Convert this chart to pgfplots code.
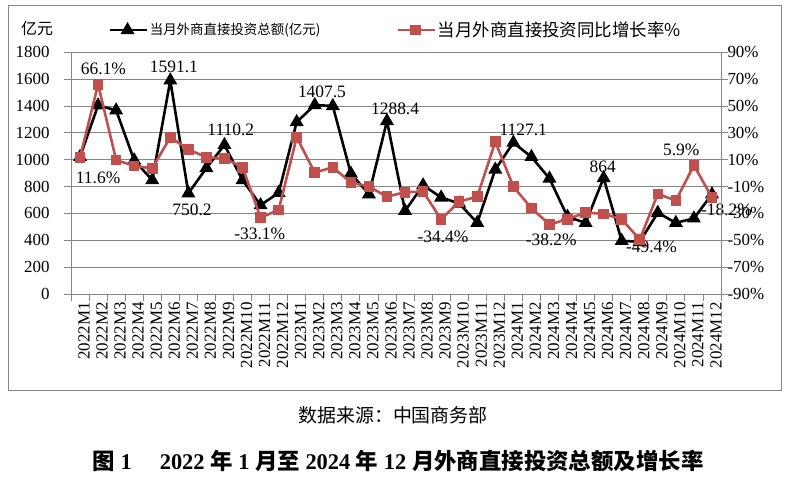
\documentclass[border=0pt]{standalone}
\usepackage{pgfplots}
\pgfplotsset{compat=1.18}
\usepackage{fontspec}
\setmainfont{Liberation Serif}
\newfontfamily\cjk{Noto Sans CJK SC}
\definecolor{exred}{RGB}{192,80,77}
\definecolor{gridgray}{RGB}{134,134,134}

% black: monthly FDI (100m yuan), red: yoy growth (%)
\pgfplotstableread{
x total growth
0 1021 11.6
1 1405 66.1
2 1368 9.8
3 996 5.4
4 848 3.6
5 1591.1 26.7
6 750.2 17.7
7 938 11.8
8 1110.2 11.0
9 848 4.4
10 662 -33.1
11 753 -27.4
12 1281 26.7
13 1407.5 0.4
14 1400 4.4
15 897 -7.0
16 743 -10.0
17 1288.4 -17.5
18 619 -14.2
19 810 -13.7
20 719 -34.4
21 674 -21.2
22 530 -17.5
23 927 23.4
24 1127.1 -10.0
25 1021 -26.1
26 860 -38.2
27 575 -34.3
28 530 -29.4
29 864 -30.3
30 396 -34.3
31 389 -49.4
32 605 -15.5
33 530 -20.4
34 563 5.9
35 743 -18.2
}\fdi

\pgfplotsset{
  every axis/.append style={
    at={(71bp,184bp)}, anchor=south west, scale only axis,
    width=650bp, height=241.7bp,
    xmin=-0.5, xmax=35.5,
    tick align=outside,
    major tick length=7bp, minor tick length=7bp,
    axis line style={gridgray, line width=0.8bp},
    every tick/.style={gridgray, line width=0.8bp},
    tick label style={font=\fontsize{17}{17}\selectfont},
    clip=false,
  },
}

\begin{document}
\begin{tikzpicture}
\useasboundingbox (0,0) rectangle (792bp,478bp);
\draw[gridgray, line width=0.8bp] (8bp,88bp) rectangle (781bp,473bp);

\begin{axis}[
  ymin=0, ymax=1800,
  axis x line*=bottom, axis y line*=left,
  ytick={0,200,...,1800},
  yticklabels={0,200,400,600,800,1000,1200,1400,1600,1800},
  yticklabel style={xshift=-11bp},
  ymajorgrids, grid style={gridgray, line width=0.8bp},
  xtick={0,...,35},
  major x tick style={draw=none},
  minor xtick={-0.5,0.5,...,35.5},
  xticklabels={2022M1,2022M2,2022M3,2022M4,2022M5,2022M6,2022M7,2022M8,2022M9,2022M10,2022M11,2022M12,
    2023M1,2023M2,2023M3,2023M4,2023M5,2023M6,2023M7,2023M8,2023M9,2023M10,2023M11,2023M12,
    2024M1,2024M2,2024M3,2024M4,2024M5,2024M6,2024M7,2024M8,2024M9,2024M10,2024M11,2024M12},
  xticklabel style={rotate=90, anchor=east, inner sep=1bp, yshift=-4bp},
  legend columns=2,
  legend style={at={(0.057,1.092)}, anchor=west, draw=none, fill=none,
    inner sep=0pt, font=\cjk,
    /tikz/every even column/.append style={column sep=74bp}},
  legend image code/.code={
    \draw[#1, mark repeat=2, mark phase=2] plot coordinates {(0bp,0bp) (18bp,0bp) (37bp,0bp)};},
]
\addplot[black, line width=2.6bp, mark=triangle*, mark size=5.5bp,
  mark options={solid}] table[x=x, y=total] {\fdi};
\addlegendentry{\fontsize{13.5}{14}\selectfont 当月外商直接投资总额(亿元)}
\addlegendimage{exred, line width=2.6bp, mark=square*, mark size=4bp}
\addlegendentry{\fontsize{17.5}{18}\selectfont 当月外商直接投资同比增长率\%}

\begin{scope}[font=\fontsize{17.5}{17.5}\selectfont]
\node at (axis cs:1.3,1680) {66.1\%};
\node at (axis cs:5.2,1690) {1591.1};
\node at (axis cs:1.0,868) {11.6\%};
\node at (axis cs:6.2,630) {750.2};
\node at (axis cs:8.35,1225) {1110.2};
\node at (axis cs:9.95,451) {-33.1\%};
\node at (axis cs:13.4,1504) {1407.5};
\node at (axis cs:17.45,1381) {1288.4};
\node at (axis cs:20.1,426) {-34.4\%};
\node at (axis cs:24.55,1219) {1127.1};
\node at (axis cs:26.1,401) {-38.2\%};
\node at (axis cs:28.95,946) {864};
\node at (axis cs:31.65,352) {-49.4\%};
\node at (axis cs:33.3,1071) {5.9\%};
\node at (axis cs:35.8,630) {-18.2\%};
\end{scope}
\end{axis}

\begin{axis}[
  ymin=-90, ymax=90,
  axis x line=none, axis y line*=right,
  ytick={-90,-70,...,90},
  yticklabels={-90\%,-70\%,-50\%,-30\%,-10\%,10\%,30\%,50\%,70\%,90\%},
  yticklabel style={xshift=-4bp},
]
\addplot[exred, line width=2.6bp, mark=square*, mark size=4bp,
  mark options={solid}] table[x=x, y=growth] {\fdi};
\end{axis}

\node[font=\cjk\fontsize{16}{16}\selectfont] at (37bp,450bp) {亿元};
\node[font=\cjk\fontsize{19}{19}\selectfont] at (393bp,63bp) {数据来源：中国商务部};
\node[font=\bfseries\fontsize{22.5}{22.5}\selectfont] at (398bp,17bp)
  {{\cjk 图} 1\quad\ 2022 {\cjk 年} 1 {\cjk 月至} 2024 {\cjk 年} 12 {\cjk 月外商直接投资总额及增长率}};
\end{tikzpicture}
\end{document}
